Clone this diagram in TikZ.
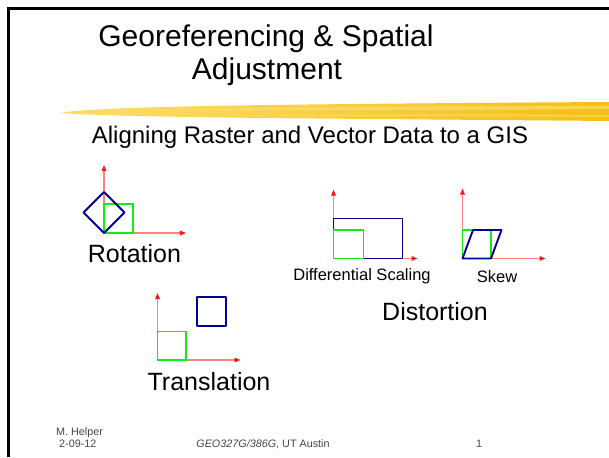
\documentclass[tikz,border=0pt]{standalone}
\usepackage{fontspec}
\setmainfont{Liberation Sans}
\usepackage{xcolor}
\usetikzlibrary{positioning,arrows.meta}

\definecolor{axisred}{RGB}{255,130,130}
\definecolor{tipred}{RGB}{255,20,20}
\definecolor{navyblue}{RGB}{0,0,150}
\definecolor{limegreen}{RGB}{20,235,20}
\definecolor{brushgold}{RGB}{245,190,20}
\definecolor{brushlight}{RGB}{252,222,110}
\definecolor{footgray}{RGB}{70,70,70}

\begin{document}
\begin{tikzpicture}[
  x=1pt, y=-1pt,
  axis/.style={draw=axisred, line width=1.3pt,
    -{Triangle[length=6pt, width=4.5pt, color=tipred]}},
  newshape/.style={draw=navyblue, line width=1.9pt, line join=round},
  oldshape/.style={draw=limegreen, line width=1.1pt},
  title/.style={font=\fontsize{30}{36}\selectfont, anchor=base, inner sep=0pt},
  sub/.style={font=\fontsize{24}{28}\selectfont, anchor=base, inner sep=0pt},
  lbl/.style={font=\fontsize{25}{30}\selectfont, anchor=base, inner sep=0pt},
  small/.style={font=\fontsize{16.5}{20}\selectfont, anchor=base, inner sep=0pt},
  foot/.style={font=\fontsize{10.8}{13}\selectfont, text=footgray, anchor=base west, inner sep=0pt}
]
\useasboundingbox (0,0) rectangle (609,457);
\fill[white] (0,0) rectangle (609,457);

% slide frame
\draw[line width=3pt] (8,457) -- (8,8.5) -- (609,8.5);

% title
\node[title] (title1) at (266,47) {Georeferencing \& Spatial};
\node[title] (title2) at (267,80) {Adjustment};

% yellow brush stroke
\shade[left color=brushlight, right color=brushgold]
  (60,113) .. controls (90,106) and (300,104) .. (609,102)
  -- (609,121) .. controls (400,119) and (120,118) .. (60,113) -- cycle;
\fill[brushlight, opacity=0.7]
  (150,110) .. controls (300,107) and (450,106) .. (609,106)
  -- (609,109) .. controls (450,110) and (300,111) .. (150,110) -- cycle;
\fill[brushlight, opacity=0.6]
  (220,116) .. controls (350,114) and (480,114) .. (609,115)
  -- (609,117) .. controls (480,116) and (350,116) .. (220,116) -- cycle;

\node[sub] (subtitle) at (310,143.3) {Aligning Raster and Vector Data to a GIS};

% rotation
\coordinate (rotO) at (104,233);
\draw[axis] (rotO) -- ++(0,-68);
\draw[axis] (rotO) -- ++(82,0);
\draw[oldshape] (rotO) rectangle ++(29,-29);
\draw[newshape] (rotO) -- ++(20.5,-20.5) -- ++(-20.5,-20.5) -- ++(-20.5,20.5) -- cycle;
\node[lbl] (rotlbl) at (134.5,262) {Rotation};

% differential scaling
\coordinate (scaO) at (333.5,258.5);
\draw[axis] (scaO) -- ++(0,-69);
\draw[axis] (scaO) -- ++(84,0);
\draw[newshape] (scaO) rectangle ++(69,-40);
\draw[oldshape] (scaO) rectangle ++(30,-28.5);
\node[small] (scalbl) at (362,280) {Differential Scaling};

% skew
\coordinate (skwO) at (462.5,258.5);
\draw[axis] (skwO) -- ++(0,-70);
\draw[axis] (skwO) -- ++(83,0);
\draw[oldshape] (skwO) rectangle ++(28.5,-28.5);
\draw[newshape] (skwO) -- ++(28.5,0) -- ++(10.5,-28.5) -- ++(-28.5,0) -- cycle;
\node[small] (skwlbl) at (497,282) {Skew};

\node[lbl] (distlbl) at (435,320) {Distortion};

% translation
\coordinate (trnO) at (157.5,360);
\draw[axis] (trnO) -- ++(0,-67);
\draw[axis] (trnO) -- ++(83,0);
\draw[oldshape] (trnO) rectangle ++(28.5,-28.5);
\draw[newshape] (196.7,296.7) rectangle (226,325.7);
\node[lbl] (trnlbl) at (209,390) {Translation};

% footer
\node[foot] (author) at (56,435) {M. Helper};
\node[foot] (date) at (59,447) {2-09-12};
\node[foot, anchor=base] (course) at (263,447) {\textit{GEO327G/386G}, UT Austin};
\node[foot] (pagenum) at (476,447) {1};
\end{tikzpicture}
\end{document}
